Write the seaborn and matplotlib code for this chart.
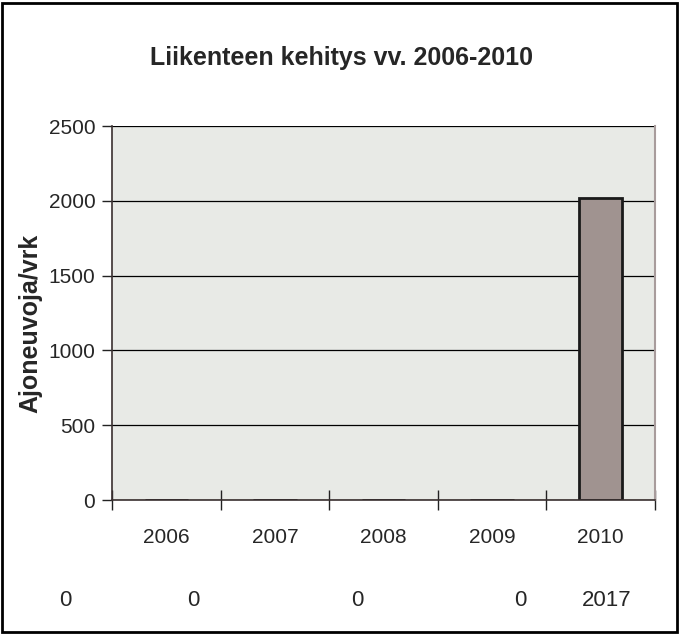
import matplotlib
matplotlib.use("Agg")
import matplotlib.pyplot as plt
from matplotlib.patches import Rectangle
import seaborn as sns
import pandas as pd

years = ['2006', '2007', '2008', '2009', '2010']
traffic = [0, 0, 0, 0, 2017]
# values printed in the row below the chart
row_values = ['0', '0', '0', '0', '2017']
row_x = [65, 193, 357, 520, 607]  # pixel centres

sns.set_style("white")
plt.rcParams['font.family'] = ['Liberation Sans', 'DejaVu Sans']

df = pd.DataFrame({'vuosi': years, 'ajoneuvot': traffic})

fig = plt.figure(figsize=(6.9, 6.35), dpi=100)
W, H = 690, 635
ax = fig.add_axes([112 / W, 1 - 500 / H, (655 - 112) / W, (500 - 126) / H])
ax.set_facecolor('#E8EAE6')

sns.barplot(data=df, x='vuosi', y='ajoneuvot', ax=ax, color='#A09390',
            width=0.4, edgecolor='#1a1a1a', linewidth=2, saturation=1, zorder=3)

ax.set_ylim(0, 2500)
ax.set_yticks([0, 500, 1000, 1500, 2000, 2500])
ax.yaxis.grid(True, color='black', linewidth=0.9, zorder=1)
ax.set_axisbelow(True)
ax.set_xlim(-0.5, 4.5)

# ticks on category boundaries, labels at centres
ax.set_xticks([i - 0.5 for i in range(6)])
ax.set_xticklabels([])
ax.set_xticks(range(5), minor=True)
ax.set_xticklabels(years, minor=True, fontsize=15)
ax.tick_params(axis='x', which='major', bottom=True, direction='inout', length=14, width=1, color='#222222')
ax.tick_params(axis='x', which='minor', bottom=True, length=0, pad=20)
ax.tick_params(axis='y', left=True, direction='out', length=7, width=1, color='#222222', labelsize=15, pad=5)

for side in ['left', 'bottom']:
    ax.spines[side].set_color('#3a3030')
    ax.spines[side].set_linewidth(1.2)
    ax.spines[side].set_zorder(5)
ax.spines['right'].set_color('#A89C9C')
ax.spines['right'].set_linewidth(1.5)
ax.spines['top'].set_visible(False)

ax.set_xlabel('')
ax.set_ylabel('')
fig.text(30 / W, 1 - 323 / H, 'Ajoneuvoja/vrk', rotation=90,
         ha='center', va='center', fontsize=18, fontweight='bold')

fig.text(342 / W, 1 - 58 / H, 'Liikenteen kehitys vv. 2006-2010',
         ha='center', va='center', fontsize=18, fontweight='bold')

for val, x in zip(row_values, row_x):
    fig.text(x / W, 1 - 600 / H, val, ha='center', va='center', fontsize=16)

fig.patches.append(Rectangle((2 / W, 3 / H), (677 - 2) / W, (632 - 3) / H,
                             transform=fig.transFigure, fill=False,
                             edgecolor='black', linewidth=2))

fig.savefig('out.png', dpi=100)
